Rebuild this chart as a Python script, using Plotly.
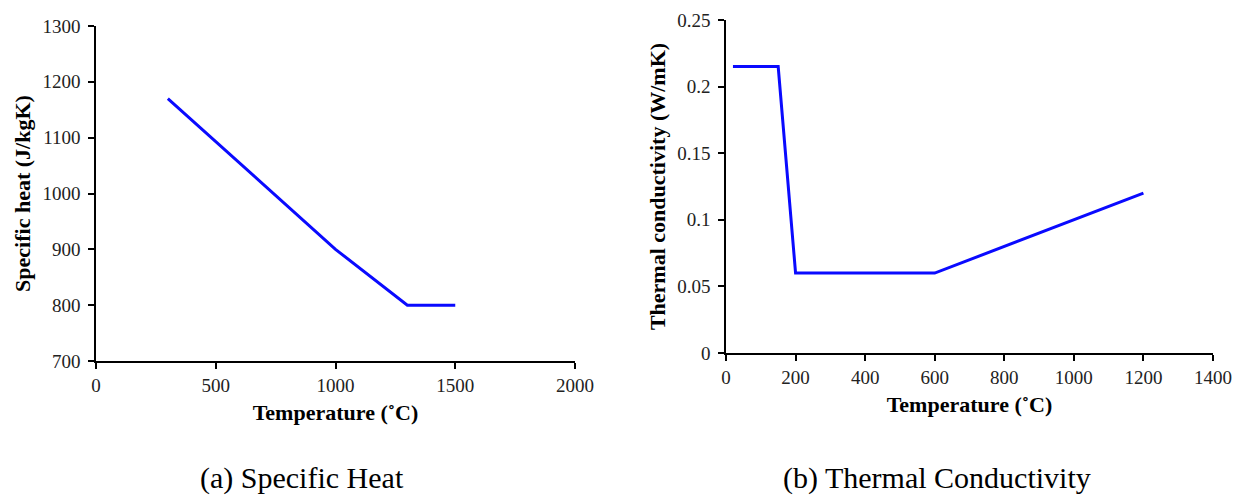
import plotly.graph_objects as go

# Specific heat data
sh_temp = [300, 1000, 1300, 1500]
sh_val = [1170, 900, 800, 800]

# Thermal conductivity data
tc_temp = [20, 150, 200, 600, 1200]
tc_val = [0.215, 0.215, 0.06, 0.06, 0.12]

sh_xticks = [0, 500, 1000, 1500, 2000]
sh_yticks = [700, 800, 900, 1000, 1100, 1200, 1300]
tc_xticks = [0, 200, 400, 600, 800, 1000, 1200, 1400]
tc_yticks = [0, 0.05, 0.1, 0.15, 0.2, 0.25]
tc_yticklabels = ["0", "0.05", "0.1", "0.15", "0.2", "0.25"]

W, H = 1237, 495
FONT = "Liberation Serif"
LINE = "#0a0aff"

fig = go.Figure()
fig.add_trace(go.Scatter(x=sh_temp, y=sh_val, mode="lines",
                         line=dict(color=LINE, width=3), xaxis="x", yaxis="y",
                         showlegend=False))
fig.add_trace(go.Scatter(x=tc_temp, y=tc_val, mode="lines",
                         line=dict(color=LINE, width=3), xaxis="x2", yaxis="y2",
                         showlegend=False))

axis_common = dict(showgrid=False, zeroline=False, showline=True, linecolor="black",
                   linewidth=1.5, ticks="outside", tickcolor="black", ticklen=6,
                   tickwidth=1.5, automargin=False,
                   tickfont=dict(family=FONT, size=19, color="#222"))

title_font = dict(family=FONT, size=22, color="black")

fig.update_layout(
    width=W, height=H,
    margin=dict(l=0, r=0, t=0, b=0),
    paper_bgcolor="white", plot_bgcolor="white",
    xaxis=dict(axis_common, domain=[96 / W, 575 / W], range=[0, 2000],
               tickvals=sh_xticks, anchor="y",
               title=dict(text="<b>Temperature (˚C)</b>", font=title_font, standoff=10)),
    yaxis=dict(axis_common, domain=[1 - 361 / H, 1 - 26 / H], range=[700, 1300],
               tickvals=sh_yticks, anchor="x", ticklabelstandoff=4,
               title=dict(text="<b>Specific heat (J/kgK)</b>", font=title_font, standoff=6)),
    xaxis2=dict(axis_common, domain=[726 / W, 1213 / W], range=[0, 1400],
                tickvals=tc_xticks, anchor="y2",
                title=dict(text="<b>Temperature (˚C)</b>", font=title_font, standoff=10)),
    yaxis2=dict(axis_common, domain=[1 - 353 / H, 1 - 20 / H], range=[0, 0.25],
                tickvals=tc_yticks, ticktext=tc_yticklabels, anchor="x2", ticklabelstandoff=4,
                title=dict(text="<b>Thermal conductivity (W/mK)</b>", font=title_font, standoff=6)),
    annotations=[
        dict(text="(a) Specific Heat", x=302 / W, y=1 - 478 / H, xref="paper", yref="paper",
             showarrow=False, font=dict(family=FONT, size=30, color="black"),
             xanchor="center", yanchor="middle"),
        dict(text="(b) Thermal Conductivity", x=937 / W, y=1 - 478 / H, xref="paper", yref="paper",
             showarrow=False, font=dict(family=FONT, size=30, color="black"),
             xanchor="center", yanchor="middle"),
    ],
)

fig.write_html("out.html")
